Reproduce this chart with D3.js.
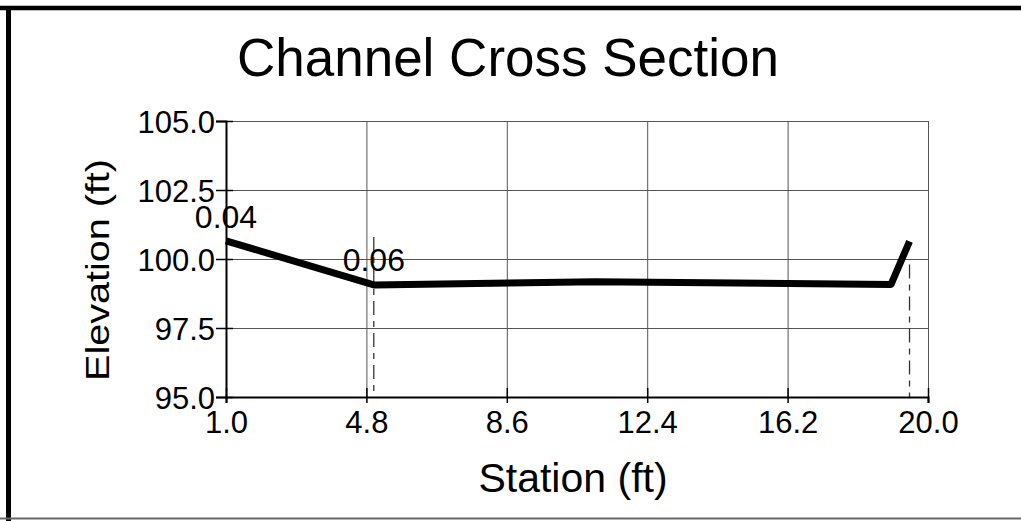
<!DOCTYPE html>
<html>
<head>
<meta charset="utf-8">
<script src="https://cdn.jsdelivr.net/npm/d3@7"></script>
<style>
  html, body { margin: 0; padding: 0; background: #fff; }
  svg { display: block; font-family: "Liberation Sans", Arial, sans-serif; }
</style>
</head>
<body>
<div id="chart"></div>
<script>
// channel ground profile: station (ft) / elevation (ft)
const stations = [1.0, 5.0, 11.0, 19.0, 19.5];
const elevations = [100.66, 99.06, 99.18, 99.08, 100.64];

// Manning's n labels and bank station markers
const nLabels = ['0.04', '0.06'];
const nStations = [1.0, 5.0];
const bankStations = [5.0, 19.5];
const bankTops = [100.8, 99.8];

const xTicks = [1.0, 4.8, 8.6, 12.4, 16.2, 20.0];
const yTicks = [95.0, 97.5, 100.0, 102.5, 105.0];

const W = 1021, H = 521;
const margin = { left: 226, right: 93, top: 121, bottom: 124 };
const innerW = W - margin.left - margin.right;
const innerH = H - margin.top - margin.bottom;

const svg = d3.select('#chart').append('svg')
    .attr('width', W)
    .attr('height', H);

svg.append('rect').attr('width', W).attr('height', H).attr('fill', '#fff');

// scanned page frame
svg.append('line').attr('x1', 0).attr('x2', W).attr('y1', 8).attr('y2', 8)
    .attr('stroke', '#000').attr('stroke-width', 4.5);
svg.append('line').attr('x1', 8.5).attr('x2', 8.5).attr('y1', 6).attr('y2', H)
    .attr('stroke', '#000').attr('stroke-width', 5);
svg.append('line').attr('x1', 0).attr('x2', W).attr('y1', 518.5).attr('y2', 518.5)
    .attr('stroke', '#666').attr('stroke-width', 2);

const x = d3.scaleLinear().domain([1, 20]).range([margin.left, margin.left + innerW]);
const y = d3.scaleLinear().domain([95, 105]).range([margin.top + innerH, margin.top]);

// grid
const grid = svg.append('g');
grid.append('g')
    .attr('transform', `translate(0,${margin.top + innerH})`)
    .call(d3.axisBottom(x).tickValues(xTicks).tickSize(-innerH).tickFormat(''))
    .call(g => g.select('.domain').remove())
    .call(g => g.selectAll('line').attr('stroke', '#555').attr('stroke-width', 1));
grid.append('g')
    .attr('transform', `translate(${margin.left},0)`)
    .call(d3.axisLeft(y).tickValues(yTicks).tickSize(-innerW).tickFormat(''))
    .call(g => g.select('.domain').remove())
    .call(g => g.selectAll('line').attr('stroke', '#555').attr('stroke-width', 1));

// bank station markers
svg.append('g')
    .selectAll('line')
    .data(bankStations)
    .join('line')
    .attr('x1', d => x(d))
    .attr('x2', d => x(d))
    .attr('y1', (d, i) => y(bankTops[i]))
    .attr('y2', y(95))
    .attr('stroke', '#333')
    .attr('stroke-width', 1.3)
    .attr('stroke-dasharray', '14,6,6,6');

// axes
const xAxis = svg.append('g')
    .attr('transform', `translate(0,${margin.top + innerH})`)
    .call(d3.axisBottom(x).tickValues(xTicks).tickSize(6).tickFormat(d3.format('.1f')));
xAxis.select('.domain').attr('stroke', '#000').attr('stroke-width', 2);
xAxis.selectAll('.tick line').attr('y1', -9).attr('y2', 6).attr('stroke', '#000').attr('stroke-width', 1.5);
xAxis.selectAll('.tick text')
    .attr('y', 36).attr('dy', 0)
    .attr('font-size', 31).attr('fill', '#000')
    .attr('font-family', '"Liberation Sans", Arial, sans-serif');

const yAxis = svg.append('g')
    .attr('transform', `translate(${margin.left},0)`)
    .call(d3.axisLeft(y).tickValues(yTicks).tickSize(10).tickFormat(d3.format('.1f')));
yAxis.select('.domain').attr('stroke', '#000').attr('stroke-width', 2);
yAxis.selectAll('.tick line').attr('x1', 7).attr('x2', -10).attr('stroke', '#000').attr('stroke-width', 1.5);
yAxis.selectAll('.tick text')
    .attr('x', -11).attr('dy', 11)
    .attr('font-size', 31).attr('fill', '#000')
    .attr('font-family', '"Liberation Sans", Arial, sans-serif');

// ground line
const profile = stations.map((s, i) => [s, elevations[i]]);
svg.append('path')
    .datum(profile)
    .attr('fill', 'none')
    .attr('stroke', '#000')
    .attr('stroke-width', 7)
    .attr('stroke-linejoin', 'round')
    .attr('d', d3.line().x(d => x(d[0])).y(d => y(d[1])));

// n values
svg.append('g')
    .selectAll('text')
    .data(nLabels)
    .join('text')
    .attr('x', (d, i) => x(nStations[i]))
    .attr('y', (d, i) => i === 0 ? 228 : 271)
    .attr('text-anchor', 'middle')
    .attr('font-size', 32)
    .text(d => d);

// titles
svg.append('text')
    .attr('x', 508).attr('y', 76)
    .attr('text-anchor', 'middle')
    .attr('font-size', 53)
    .text('Channel Cross Section');

svg.append('text')
    .attr('x', 573).attr('y', 492)
    .attr('text-anchor', 'middle')
    .attr('font-size', 41)
    .text('Station (ft)');

svg.append('text')
    .attr('transform', 'translate(109,270) rotate(-90)')
    .attr('text-anchor', 'middle')
    .attr('font-size', 33)
    .attr('textLength', 222)
    .attr('lengthAdjust', 'spacingAndGlyphs')
    .text('Elevation (ft)');
</script>
</body>
</html>
